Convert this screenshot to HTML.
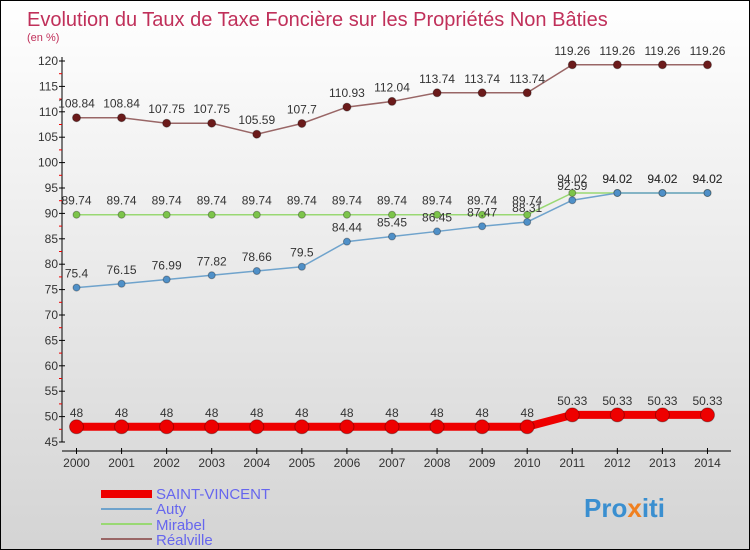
<!DOCTYPE html>
<html><head><meta charset="utf-8"><style>
body{margin:0}
#c{width:750px;height:550px;position:relative;overflow:hidden;font-family:"Liberation Sans",sans-serif;background:linear-gradient(#ffffff,#d4d4d4);box-sizing:border-box;border:1px solid #000}
</style></head><body>
<div id="c">
<svg width="750" height="550" id="s">
<text x="26" y="25" font-size="20" fill="#c0305a">Evolution du Taux de Taxe Foncière sur les Propriétés Non Bâties</text>
<text x="26" y="40" font-size="11" fill="#c0305a">(en %)</text>
<g id="g"></g>
<g>
<rect x="100" y="489" width="51" height="8" fill="#ee0000"/>
<text x="155" y="498" font-size="15" fill="#6666ee">SAINT-VINCENT</text>
<rect x="100" y="507" width="51" height="2" fill="#6fa3cc"/>
<text x="155" y="513" font-size="15" fill="#6666ee">Auty</text>
<rect x="100" y="522" width="51" height="2" fill="#99d873"/>
<text x="155" y="529" font-size="15" fill="#6666ee">Mirabel</text>
<rect x="100" y="537" width="51" height="2" fill="#996666"/>
<text x="155" y="544" font-size="15" fill="#6666ee">Réalville</text>
</g>
<text x="583" y="516" font-size="26" font-weight="bold" fill="#3a8fd0">Pro<tspan fill="#f08020">x</tspan>iti</text>
</svg>
</div>
<script>
const years=[2000,2001,2002,2003,2004,2005,2006,2007,2008,2009,2010,2011,2012,2013,2014];
const saintVincent=[48,48,48,48,48,48,48,48,48,48,48,50.33,50.33,50.33,50.33];
const auty=[75.4,76.15,76.99,77.82,78.66,79.5,84.44,85.45,86.45,87.47,88.31,92.59,94.02,94.02,94.02];
const mirabel=[89.74,89.74,89.74,89.74,89.74,89.74,89.74,89.74,89.74,89.74,89.74,94.02,94.02,94.02,94.02];
const realville=[108.84,108.84,107.75,107.75,105.59,107.7,110.93,112.04,113.74,113.74,113.74,119.26,119.26,119.26,119.26];
const yTicks=[45,50,55,60,65,70,75,80,85,90,95,100,105,110,115,120];
const NS="http://www.w3.org/2000/svg";
const g=document.getElementById('g');
const X=i=>75.5+i*45.07;
const Y=v=>441-(v-45)*(381/75);
function el(t,a){const e=document.createElementNS(NS,t);for(const k in a)e.setAttribute(k,a[k]);g.appendChild(e);return e;}
let ax=el('line',{x1:61,y1:56,x2:61,y2:441,stroke:'#000'});

let bx=el('line',{x1:61,y1:450,x2:730,y2:450,stroke:'#000'});

yTicks.forEach((v,i)=>{
 let t=el('line',{x1:58,x2:64,y1:Y(v),y2:Y(v),stroke:'#000'});
 
 let l=el('text',{x:57,y:Y(v)+4,'font-size':12,'text-anchor':'end',fill:'#333'});l.textContent=v;
 
 if(i<yTicks.length-1){let m=el('line',{x1:58,x2:61,y1:Y(v+2.5),y2:Y(v+2.5),stroke:'#e00'});
 }
});
years.forEach((y,i)=>{
 let t=el('line',{x1:X(i),x2:X(i),y1:447,y2:453,stroke:'#000'});
 
 let l=el('text',{x:X(i),y:466,'font-size':12,'text-anchor':'middle',fill:'#333'});l.textContent=y;
 
});
function series(d,name,col,dot,w,r){
 let p=el('polyline',{points:d.map((v,i)=>X(i)+','+Y(v)).join(' '),fill:'none',stroke:col,'stroke-width':w});
 
 d.forEach((v,i)=>{
  let c=el('circle',{cx:X(i),cy:Y(v),r:r,fill:dot,stroke:'rgba(0,0,0,0.3)'});
  
  let t=el('text',{x:X(i),y:Y(v)-10,'font-size':12,'text-anchor':'middle',fill:'#333'});t.textContent=v;
  
 });
}
series(mirabel,'mirabel','#99d873','#7cc44a',1.5,3.5);
series(auty,'auty','#6fa3cc','#4f90c8',1.5,3.5);
series(realville,'realville','#996666','#6b1a1a',1.5,4);
series(saintVincent,'saint-vincent','#ee0000','#ee0000',8,7);
</script>
</body></html>
